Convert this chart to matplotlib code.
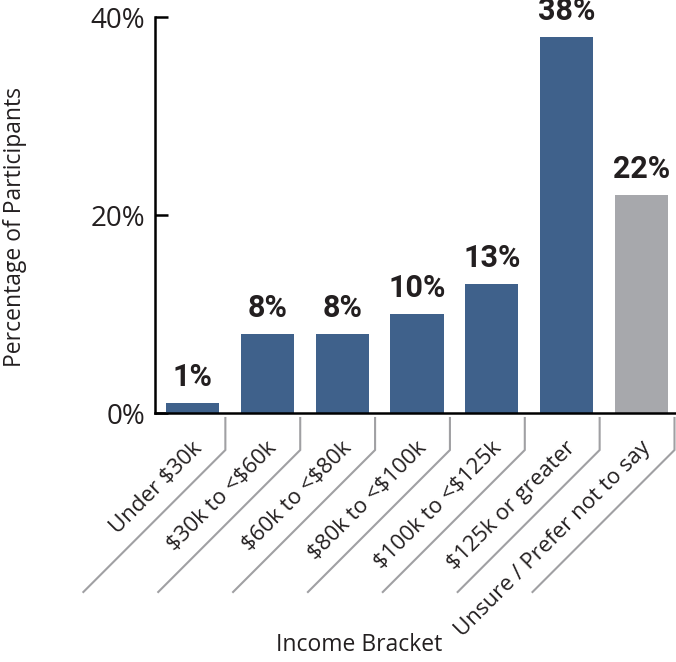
import matplotlib
matplotlib.use("Agg")
from matplotlib import pyplot as plt
from matplotlib.lines import Line2D

# data
categories = ["Under \\$30k", "\\$30k to <\\$60k", "\\$60k to <\\$80k", "\\$80k to <\\$100k",
              "\\$100k to <\\$125k", "\\$125k or greater", "Unsure / Prefer not to say"]
percent = [1, 8, 8, 10, 13, 38, 22]
bar_colors = ["#3f618b"] * 6 + ["#a7a8ac"]
yticks = [0, 20, 40]
ytick_labels = ["0%", "20%", "40%"]

plt.rcParams['font.family'] = ['Open Sans', 'DejaVu Sans']
text_color = "#231f20"
line_gray = "#a0a0a3"

fig = plt.figure(figsize=(6.76, 6.62), dpi=100)
W, H = 676, 662
ax = fig.add_axes([155 / W, 249 / H, 521 / W, 396 / H])

x = list(range(len(categories)))
ax.bar(x, percent, width=0.71, color=bar_colors, zorder=2)

ax.set_xlim(-0.5, 6.46)
ax.set_ylim(0, 40)
ax.set_yticks(yticks)
ax.set_yticklabels(ytick_labels, fontsize=20)
ax.set_xticks([])
ax.tick_params(axis='y', direction='in', length=9, width=1.8, pad=7, colors='black')
for lab in ax.get_yticklabels():
    lab.set_color(text_color)
for s in ['top', 'right']:
    ax.spines[s].set_visible(False)
for s in ['left', 'bottom']:
    ax.spines[s].set_linewidth(1.8)
    ax.spines[s].set_color('black')

# value labels
for xi, v in zip(x, percent):
    ax.annotate(f"{v}%", (xi, v), xytext=(0, 8), textcoords='offset points',
                ha='center', va='bottom', fontsize=22, fontweight='bold',
                family=['Roboto', 'DejaVu Sans'],
                color=text_color, annotation_clip=False)

# slanted separators and labels below the axis (worked out in pixels)
inv = fig.transFigure.inverted()
def fig_pt(px, py):
    return inv.transform((px, py))

base_y = ax.transData.transform((0, 0))[1]
v_top = base_y - 5
v_bot = base_y - 37
drop = 142

for i in range(len(categories)):
    bx = ax.transData.transform((i + 0.44, 0))[0]
    p0 = fig_pt(bx, v_top)
    p1 = fig_pt(bx, v_bot)
    p2 = fig_pt(bx - drop, v_bot - drop)
    fig.add_artist(Line2D([p0[0], p1[0], p2[0]], [p0[1], p1[1], p2[1]],
                          color=line_gray, linewidth=1.5, solid_joinstyle='miter'))

for i, lab in enumerate(categories):
    cx = ax.transData.transform((i, 0))[0]
    pos = fig_pt(cx + 10, base_y - 36)
    fig.text(pos[0], pos[1], lab, rotation=45, rotation_mode='anchor',
             ha='right', va='baseline', fontsize=16, color=text_color)

fig.text(359 / W, 1 - 645 / H, "Income Bracket", ha='center', va='center',
         fontsize=16.5, color=text_color)
fig.text(15 / W, 1 - 227 / H, "Percentage of Participants", rotation=90,
         ha='center', va='center', fontsize=16.5, color=text_color)

fig.savefig("out.png", dpi=100)
